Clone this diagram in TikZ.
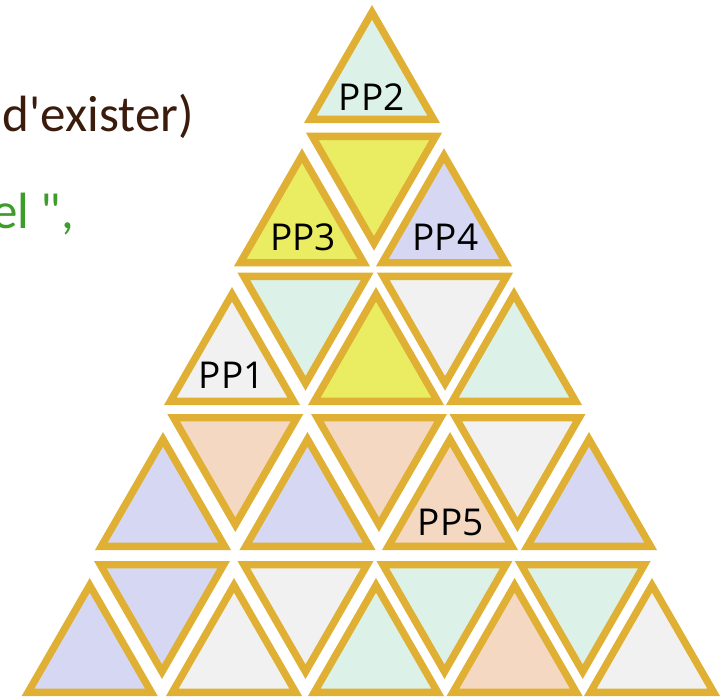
\documentclass[tikz,border=0pt]{standalone}
\usepackage{fontspec}
\setmainfont{Open Sans}
\newfontfamily\bodyfont{Carlito}

\definecolor{rim}{HTML}{E0B034}
\definecolor{mint}{HTML}{DCF1E7}
\definecolor{lemon}{HTML}{EAED62}
\definecolor{lilac}{HTML}{D6D7F3}
\definecolor{pale}{HTML}{F1F1F1}
\definecolor{peach}{HTML}{F5D8C1}
\definecolor{brownink}{HTML}{3B1C0C}
\definecolor{greenink}{HTML}{3E9C2A}

\tikzset{
  tri/.style={draw=rim, line width=7.3pt, line join=miter},
  pplabel/.style={anchor=base, inner sep=0pt, font=\fontsize{37}{40}\selectfont, text=black},
  bodytext/.style={anchor=base east, inner sep=0pt, font=\bodyfont\fontsize{51}{60}\selectfont}
}

% upward triangle: outer apex (x, y), outer side 136
\newcommand\uptri[3]{\draw[tri, fill=#3] ({#1},{#2+7.3}) -- ({#1+61.7},{#2+114.35}) -- ({#1-61.7},{#2+114.35}) -- cycle;}
% downward triangle: centre x, outer top edge y
\newcommand\dntri[3]{\draw[tri, fill=#3] ({#1-61.7},{#2+3.65}) -- ({#1+61.7},{#2+3.65}) -- ({#1},{#2+110.7}) -- cycle;}

\begin{document}
\begin{tikzpicture}[x=1pt, y=-1pt]
  \useasboundingbox[fill=white] (0,0) rectangle (725,696);

  % text continuing from the left
  \node[bodytext, text=brownink] (line1) at (194,131.7) {d'exister)};
  \node[bodytext, text=greenink] (line2) at (74,228) {el ",};

  % row 1
  \uptri{372}{5}{mint}
  % row 2
  \uptri{302}{148.3}{lemon}
  \dntri{374}{132.7}{lemon}
  \uptri{444}{148.3}{lilac}
  % row 3
  \uptri{232}{287}{pale}
  \dntri{305.5}{272.7}{mint}
  \uptri{376}{287}{lemon}
  \dntri{445}{272.7}{pale}
  \uptri{514}{287}{mint}
  % row 4
  \uptri{163}{432}{lilac}
  \dntri{235.3}{414}{peach}
  \uptri{307.5}{432}{lilac}
  \dntri{379}{414}{peach}
  \uptri{450}{432}{peach}
  \dntri{517.5}{414}{pale}
  \uptri{589}{432}{lilac}
  % row 5
  \uptri{89.7}{578}{lilac}
  \dntri{162}{561}{lilac}
  \uptri{234}{578}{pale}
  \dntri{305.5}{561}{pale}
  \uptri{376}{578}{mint}
  \dntri{444.5}{561}{mint}
  \uptri{514.6}{578}{peach}
  \dntri{582.7}{561}{mint}
  \uptri{652}{578}{pale}

  % labels
  \node[pplabel] (pp2) at (371.7,110) {PP2};
  \node[pplabel] (pp3) at (303,250) {PP3};
  \node[pplabel] (pp4) at (445.5,250) {PP4};
  \node[pplabel] (pp1) at (231.7,388) {PP1};
  \node[pplabel] (pp5) at (450.8,535) {PP5};
\end{tikzpicture}
\end{document}
